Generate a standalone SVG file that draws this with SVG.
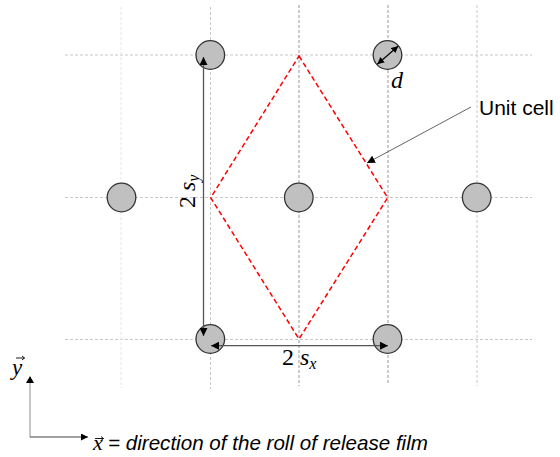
<svg xmlns="http://www.w3.org/2000/svg" width="560" height="457" viewBox="0 0 560 457">
<defs>
<marker id="ah" viewBox="0 0 10 10" refX="10" refY="5" markerWidth="8" markerHeight="8" markerUnits="userSpaceOnUse" orient="auto-start-reverse">
<path d="M0,0 L10,5 L0,10 z" fill="#000"/>
</marker>
<marker id="ahs" viewBox="0 0 10 10" refX="10" refY="5" markerWidth="7" markerHeight="7" markerUnits="userSpaceOnUse" orient="auto-start-reverse">
<path d="M0,0 L10,5 L0,10 z" fill="#000"/>
</marker>
</defs>
<style>
.grid{stroke:#c8c8c8;stroke-width:1;stroke-dasharray:3,2;fill:none}
.gridd{stroke:#999;stroke-width:1;stroke-dasharray:3,2;fill:none}
.gridf{stroke:#e6e6e6;stroke-width:1;stroke-dasharray:3,2;fill:none}
.dot{fill:#c0c0c0;stroke:#333;stroke-width:1.3}
.dim{stroke:#555;stroke-width:1.3;fill:none}
.cell{stroke:#ff0000;stroke-width:1.5;stroke-dasharray:5,3;fill:none}
.vec{stroke:#000;stroke-width:0.9;fill:none}
.math{font-family:"Liberation Serif","DejaVu Serif",serif;font-style:italic;fill:#000}
.num{font-family:"Liberation Serif","DejaVu Serif",serif;fill:#000}
.lbl{font-family:"Liberation Sans",Arial,sans-serif;fill:#000}
</style>
<g id="grid">
<line class="grid" x1="65" y1="55" x2="532" y2="55"/>
<line class="grid" x1="65" y1="197.5" x2="532" y2="197.5"/>
<line class="grid" x1="65" y1="339.5" x2="532" y2="339.5"/>
<line class="gridf" x1="121" y1="7" x2="121" y2="388"/>
<line class="grid" x1="210.5" y1="7" x2="210.5" y2="389"/>
<line class="gridd" x1="299" y1="5" x2="299" y2="386"/>
<line class="gridd" x1="388" y1="5" x2="388" y2="385"/>
<line class="grid" x1="477" y1="5" x2="477" y2="386"/>
</g>
<g id="unit-cell">
<polygon class="cell" points="299,56 387.7,197.7 299,339 210.7,197.7"/>
</g>
<g id="dot-1"><circle class="dot" cx="210.3" cy="55" r="14.3"/></g>
<g id="dot-2"><circle class="dot" cx="387.5" cy="55" r="14.3"/></g>
<g id="dot-3"><circle class="dot" cx="121.5" cy="197.5" r="14.3"/></g>
<g id="dot-4"><circle class="dot" cx="298.8" cy="197.5" r="14.3"/></g>
<g id="dot-5"><circle class="dot" cx="476.7" cy="197.5" r="14.3"/></g>
<g id="dot-6"><circle class="dot" cx="210.3" cy="339" r="14.3"/></g>
<g id="dot-7"><circle class="dot" cx="387.5" cy="339" r="14.3"/></g>
<g id="connectors">
<line class="dim" x1="203.5" y1="57" x2="203.5" y2="336" marker-start="url(#ah)" marker-end="url(#ah)"/>
<line class="dim" x1="211" y1="345.7" x2="388" y2="345.7" marker-start="url(#ah)" marker-end="url(#ah)"/>
<line stroke="#000" stroke-width="1.2" x1="377.3" y1="64.3" x2="398.3" y2="46" marker-start="url(#ahs)" marker-end="url(#ahs)"/>
<line stroke="#666" stroke-width="1" x1="471" y1="107" x2="367" y2="163" marker-end="url(#ah)"/>
<line stroke="#a0a0a0" stroke-width="1.2" x1="30" y1="437" x2="30" y2="383"/>
<line stroke="#444" stroke-width="1.2" x1="30" y1="437" x2="88" y2="437" marker-end="url(#ahs)"/>
<path d="M26,383 L30,376 L34,383 z" fill="#000"/>
</g>
<g id="labels">
<text class="math" x="391" y="88" font-size="24">d</text>
<text class="lbl" x="479" y="115" font-size="21">Unit cell</text>
<text x="282" y="365" font-size="24"><tspan class="num">2</tspan><tspan class="math" x="300">s</tspan><tspan class="math" font-size="16" dy="4">x</tspan></text>
<text transform="translate(195,208) rotate(-90)" font-size="24"><tspan class="num" x="0" y="0">2</tspan><tspan class="math" x="17">s</tspan><tspan class="math" font-size="16" dy="4">y</tspan></text>
<text class="math" x="12" y="375" font-size="23">y</text>
<path class="vec" d="M16,358 H24.5 M22,356 L24.5,358 L22,360"/>
<text class="math" x="93" y="450" font-size="22">x</text>
<path class="vec" d="M95,438.5 H103.5 M101,436.5 L103.5,438.5 L101,440.5"/>
<text class="lbl" x="108" y="450" font-size="20.6" font-style="italic">= direction of the roll of release film</text>
</g>
</svg>
